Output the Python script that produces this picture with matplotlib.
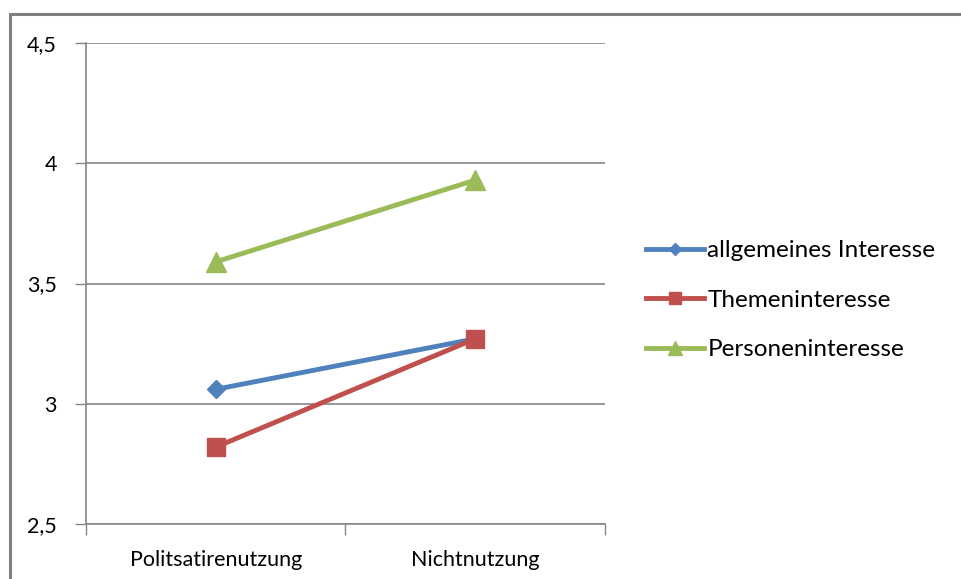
import numpy as np
import matplotlib
matplotlib.use("Agg")
import matplotlib.pyplot as plt
from matplotlib.patches import Rectangle
from matplotlib.ticker import FuncFormatter

# categories and series
categories = ["Politsatirenutzung", "Nichtnutzung"]
allgemein = [3.06, 3.27]
themen = [2.82, 3.27]
personen = [3.59, 3.93]
series_names = ["allgemeines Interesse", "Themeninteresse", "Personeninteresse"]

plt.rcParams['font.family'] = ['Lato', 'DejaVu Sans']

fig = plt.figure(figsize=(9.61, 5.79), dpi=100)
ax = fig.add_axes([0.0895, 0.095, 0.540, 0.8307])

x = np.arange(len(categories))
ax.plot(x, allgemein, color='#4F81BD', lw=3.5, marker='D', ms=9, label=series_names[0])
ax.plot(x, themen, color='#C0504D', lw=3.5, marker='s', ms=13, label=series_names[1])
ax.plot(x, personen, color='#9BBB59', lw=3.5, marker='^', ms=15, label=series_names[2])

ax.set_xlim(-0.5, 1.5)
ax.set_ylim(2.5, 4.5)
ax.set_yticks([2.5, 3, 3.5, 4, 4.5])
ax.yaxis.set_major_formatter(FuncFormatter(lambda v, p: ('%g' % v).replace('.', ',')))
ax.yaxis.grid(True, color='#868686', lw=1.2)
ax.set_axisbelow(True)

# category labels between boundary ticks
ax.set_xticks([-0.5, 0.5, 1.5])
ax.set_xticklabels([])
ax.set_xticks(x, minor=True)
ax.set_xticklabels(categories, minor=True)
ax.tick_params(axis='x', which='minor', length=0, pad=19, labelsize=15.5)
ax.tick_params(axis='x', which='major', length=8, color='#868686', width=1)
ax.tick_params(axis='y', length=8, color='#868686', width=1, pad=13, labelsize=15.5)

for s in ['top', 'right']:
    ax.spines[s].set_visible(False)
for s in ['left', 'bottom']:
    ax.spines[s].set_color('#868686')
    ax.spines[s].set_linewidth(1.2)

ax.legend(loc='center left', bbox_to_anchor=(1.036, 0.465), frameon=False,
          fontsize=17.5, handlelength=2.4, handletextpad=0.15, labelspacing=1.17,
          markerscale=0.7)

# outer chart border (cut off at right and bottom)
fig.patches.append(Rectangle((9.5 / 961, -0.1), 1.2, 1 - 14 / 579 + 0.1,
                             transform=fig.transFigure, fill=False,
                             edgecolor='#808080', lw=2.2))

fig.savefig('out.png', dpi=100)
